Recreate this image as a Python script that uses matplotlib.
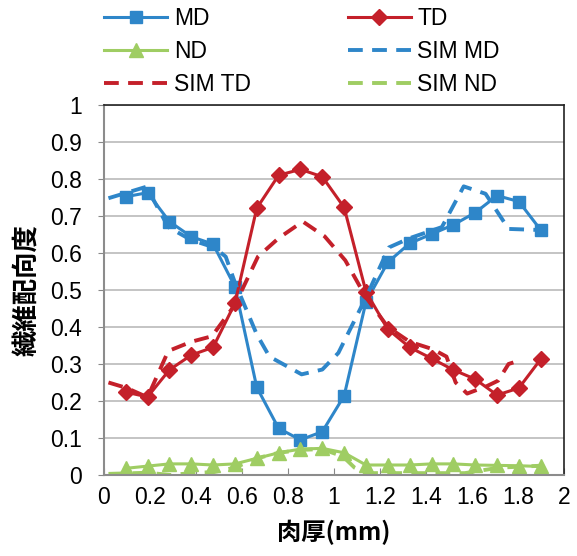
import matplotlib
matplotlib.use("Agg")
import matplotlib.pyplot as plt

plt.rcParams['font.family'] = ['Liberation Sans', 'Noto Sans CJK JP', 'DejaVu Sans']

# measured data
x_meas = [0.095, 0.19, 0.285, 0.38, 0.475, 0.57, 0.665, 0.76, 0.855, 0.95,
          1.045, 1.14, 1.235, 1.33, 1.425, 1.52, 1.615, 1.71, 1.805, 1.90]
md = [0.752, 0.763, 0.685, 0.644, 0.624, 0.509, 0.237, 0.126, 0.095, 0.117,
      0.214, 0.468, 0.575, 0.626, 0.651, 0.676, 0.709, 0.755, 0.739, 0.662]
td = [0.224, 0.211, 0.284, 0.324, 0.345, 0.464, 0.721, 0.810, 0.826, 0.806,
      0.723, 0.495, 0.394, 0.345, 0.315, 0.284, 0.259, 0.216, 0.235, 0.313]
nd = [0.018, 0.024, 0.030, 0.030, 0.027, 0.030, 0.045, 0.060, 0.070, 0.072,
      0.060, 0.027, 0.027, 0.027, 0.030, 0.030, 0.027, 0.026, 0.025, 0.023]

# simulation
x_sim_md = [0.02, 0.185, 0.28, 0.38, 0.48, 0.53, 0.57, 0.665, 0.72, 0.86,
            0.95, 1.02, 1.14, 1.24, 1.33, 1.47, 1.565, 1.66, 1.76, 1.90]
sim_md = [0.748, 0.779, 0.670, 0.635, 0.615, 0.590, 0.520, 0.380, 0.320, 0.272,
          0.285, 0.330, 0.480, 0.615, 0.640, 0.670, 0.780, 0.760, 0.665, 0.662]
x_sim_td = [0.02, 0.10, 0.19, 0.28, 0.38, 0.47, 0.57, 0.67, 0.76, 0.865,
            0.96, 1.05, 1.14, 1.235, 1.33, 1.43, 1.49, 1.53, 1.58, 1.665,
            1.715, 1.76, 1.81]
sim_td = [0.250, 0.235, 0.210, 0.335, 0.360, 0.375, 0.460, 0.590, 0.640, 0.685,
          0.645, 0.580, 0.480, 0.400, 0.360, 0.340, 0.320, 0.250, 0.220, 0.240,
          0.255, 0.300, 0.310]
x_sim_nd = [0.02, 0.19, 0.29, 0.38, 0.48, 0.57, 0.665, 0.76, 0.86, 0.95,
            1.04, 1.09, 1.14, 1.57, 1.72, 1.90]
sim_nd = [0.003, 0.006, 0.000, 0.005, 0.008, 0.020, 0.045, 0.060, 0.068, 0.070,
          0.050, 0.020, 0.005, 0.005, 0.020, 0.025]

xticks = [0, 0.2, 0.4, 0.6, 0.8, 1, 1.2, 1.4, 1.6, 1.8, 2]
xtick_labels = ['0', '0.2', '0.4', '0.6', '0.8', '1', '1.2', '1.4', '1.6', '1.8', '2']
yticks = [0, 0.1, 0.2, 0.3, 0.4, 0.5, 0.6, 0.7, 0.8, 0.9, 1]
ytick_labels = ['0', '0.1', '0.2', '0.3', '0.4', '0.5', '0.6', '0.7', '0.8', '0.9', '1']

blue = '#2E86C9'
red = '#C4202A'
green = '#9FCD63'

fig = plt.figure(figsize=(5.77, 5.56), dpi=100)
ax = fig.add_axes([0.180, 0.1457, 0.797, 0.6655])

lw = 2.2
dlw = 2.8
dash = (3.8, 2.4)
h_md, = ax.plot(x_meas, md, color=blue, lw=lw, marker='s', ms=8.5, label='MD')
h_td, = ax.plot(x_meas, td, color=red, lw=lw, marker='D', ms=8, label='TD')
h_nd, = ax.plot(x_meas, nd, color=green, lw=lw, marker='^', ms=10, label='ND')
h_smd, = ax.plot(x_sim_md, sim_md, color=blue, lw=dlw, ls=(0, dash), label='SIM MD')
h_std, = ax.plot(x_sim_td, sim_td, color=red, lw=dlw, ls=(0, dash), label='SIM TD')
h_snd, = ax.plot(x_sim_nd, sim_nd, color=green, lw=dlw, ls=(0, dash), label='SIM ND')

ax.set_xlim(0, 2)
ax.set_ylim(0, 1)
ax.set_xticks(xticks)
ax.set_xticklabels(xtick_labels)
ax.set_yticks(yticks)
ax.set_yticklabels(ytick_labels)
ax.tick_params(axis='both', labelsize=16.5, color='#888888')
ax.tick_params(axis='x', direction='in', length=5, pad=8)
ax.tick_params(axis='y', direction='out', length=4, pad=12)
ax.yaxis.grid(True, color='#BFBFBF', lw=1.3)
ax.set_axisbelow(True)
for s in ['top', 'right']:
    ax.spines[s].set_color('#222222')
    ax.spines[s].set_linewidth(1.2)
for s in ['left', 'bottom']:
    ax.spines[s].set_color('#8C8C8C')
    ax.spines[s].set_linewidth(1.5)

jp = ['Noto Sans CJK JP', 'DejaVu Sans']
ax.set_xlabel('肉厚(mm)', fontsize=17.5, fontweight='bold', family=jp, labelpad=8)
ax.set_ylabel('繊維配向度', fontsize=19, fontweight='bold', family=jp, labelpad=6)

handles = [h_md, h_nd, h_std, h_td, h_smd, h_snd]
fig.legend(handles=handles, labels=[h.get_label() for h in handles], ncol=2,
           loc='upper left', bbox_to_anchor=(0.165, 1.003), frameon=False,
           fontsize=16.5, handlelength=2.75, handletextpad=0.3,
           columnspacing=4.2, labelspacing=0.42, borderaxespad=0)

fig.savefig('out.png', dpi=100)
